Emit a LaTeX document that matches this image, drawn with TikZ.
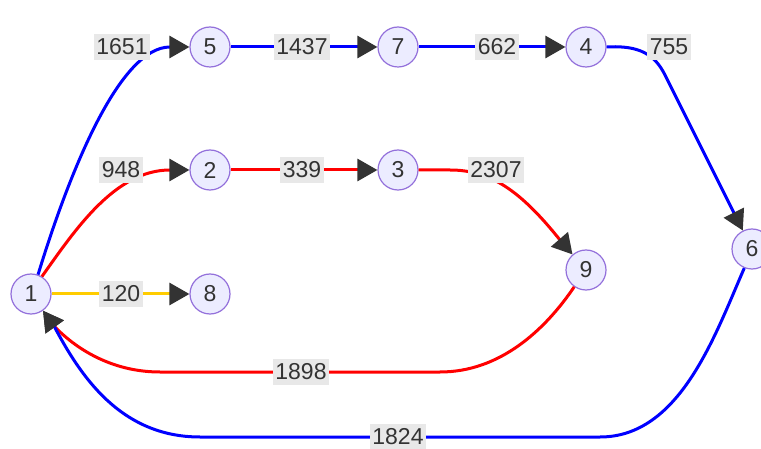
\documentclass[tikz,border=0pt]{standalone}
\usepackage{fontspec}
\setmainfont{Liberation Sans}
\usetikzlibrary{arrows.meta}
\definecolor{nodefill}{HTML}{ECECFF}
\definecolor{nodeline}{HTML}{9370DB}
\definecolor{lblfill}{HTML}{E8E8E8}
\definecolor{txt}{HTML}{333333}
\definecolor{yel}{HTML}{FFCC00}
\tikzset{
  vert/.style={circle, draw=nodeline, fill=nodefill, line width=1.2pt, minimum size=40pt, inner sep=0pt, text=txt, font=\fontsize{23}{26}\selectfont},
  lbl/.style={fill=lblfill, text=txt, inner xsep=2.5pt, inner ysep=5pt, font=\fontsize{23}{26}\selectfont},
  edge/.style={line width=3pt, -{Triangle[length=20pt,width=22pt,fill=txt,color=txt]}},
}
\begin{document}
\begin{tikzpicture}[x=1pt,y=-1pt]
\useasboundingbox (0,0) rectangle (761,449);
\node[vert] (n1) at (31,294) {1};
\node[vert] (n5) at (210,47) {5};
\node[vert] (n7) at (398,47) {7};
\node[vert] (n4) at (586,47) {4};
\node[vert] (n2) at (210,170) {2};
\node[vert] (n3) at (398,170) {3};
\node[vert] (n9) at (586,270) {9};
\node[vert] (n8) at (210,294) {8};
\node[vert] (n6) at (752,249) {6};

\draw[edge, blue] (n1.70) .. controls (70,170) and (120,47) .. (170,47) -- (n5);
\draw[edge, blue] (n5) -- (n7);
\draw[edge, blue] (n7) -- (n4);
\draw[edge, blue] (n4.east) .. controls (640,45) and (655,55) .. (665,75) -- (n6);
\draw[edge, red] (n1.58) .. controls (75,230) and (115,170) .. (170,170) -- (n2);
\draw[edge, red] (n2) -- (n3);
\draw[edge, red] (n3.east) -- (450,170) .. controls (490,170) and (520,190) .. (560,240) -- (n9);
\draw[edge, yel] (n1) -- (n8);
\draw[edge, red] (n9.235) .. controls (545,330) and (500,372) .. (440,372) -- (160,372) .. controls (110,372) and (74,347) .. (54,326) -- (n1);
\draw[edge, blue] (n6.248) .. controls (715,335) and (680,437) .. (600,437) -- (200,437) .. controls (120,437) and (80,375) .. (54,326) -- (n1);

\node[lbl] (l1) at (122,47) {1651};
\node[lbl] (l2) at (302,47) {1437};
\node[lbl] (l3) at (497,47) {662};
\node[lbl] (l4) at (669,47) {755};
\node[lbl] (l5) at (121,170) {948};
\node[lbl] (l6) at (302,170) {339};
\node[lbl] (l7) at (496,170) {2307};
\node[lbl] (l8) at (121,294) {120};
\node[lbl] (l9) at (301,372) {1898};
\node[lbl] (l10) at (398,437) {1824};
\end{tikzpicture}
\end{document}
